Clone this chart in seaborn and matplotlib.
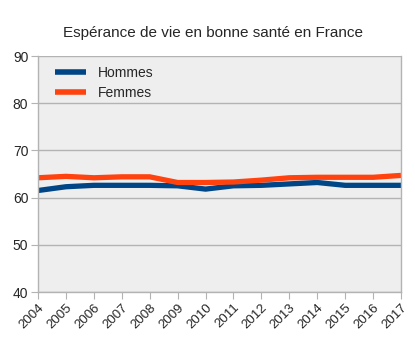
import matplotlib
matplotlib.use("Agg")
import matplotlib.pyplot as plt
import seaborn as sns
import pandas as pd

years = list(range(2004, 2018))
hommes = [61.5, 62.3, 62.6, 62.6, 62.6, 62.5, 61.8, 62.5, 62.6, 62.9, 63.2, 62.6, 62.6, 62.6]
femmes = [64.2, 64.5, 64.2, 64.4, 64.4, 63.2, 63.2, 63.3, 63.7, 64.2, 64.3, 64.3, 64.3, 64.7]
series_names = ["Hommes", "Femmes"]
colors = ["#004586", "#ff420e"]
title = "Espérance de vie en bonne santé en France"

df = pd.DataFrame({"Année": years * 2,
                   "Valeur": hommes + femmes,
                   "Série": [series_names[0]] * len(years) + [series_names[1]] * len(years)})

sns.set_style("white")
plt.rcParams['font.family'] = ['Liberation Sans', 'DejaVu Sans']

fig = plt.figure(figsize=(4.15, 3.4), dpi=100)
ax = fig.add_axes([38/415, 1-292/340, (401-38)/415, (292-56)/340])
ax.set_facecolor("#eeeeee")

sns.lineplot(data=df, x="Année", y="Valeur", hue="Série", palette=colors,
             linewidth=3.8, ax=ax, solid_joinstyle="round", solid_capstyle="butt")

ax.set_xlim(2004, 2017)
ax.set_ylim(40, 90)
ax.set_xticks(years)
ax.set_xticklabels([str(y) for y in years], rotation=45, ha="right", rotation_mode="anchor", fontsize=9.5)
ax.set_yticks([40, 50, 60, 70, 80, 90])
ax.tick_params(axis="y", labelsize=10, length=5, color="#b3b3b3", direction="out", left=True, pad=2)
ax.tick_params(axis="x", length=5, color="#b3b3b3", direction="out", bottom=True, pad=2)
ax.yaxis.grid(True, color="#b3b3b3", linewidth=1)
ax.xaxis.grid(False)
ax.set_axisbelow(True)
for s in ["left", "bottom", "right"]:
    ax.spines[s].set_color("#b3b3b3")
    ax.spines[s].set_linewidth(1)
ax.spines["top"].set_visible(False)
ax.set_xlabel("")
ax.set_ylabel("")

leg = ax.legend(loc="upper left", frameon=False, fontsize=10, handlelength=2.2,
                bbox_to_anchor=(0.02, 1.0), labelspacing=0.45, handletextpad=0.9,
                borderaxespad=0.3)
for line in leg.get_lines():
    line.set_linewidth(4)

fig.text(213/415, 1-33/340, title, ha="center", va="center", fontsize=11)

fig.savefig("out.png", dpi=100)
